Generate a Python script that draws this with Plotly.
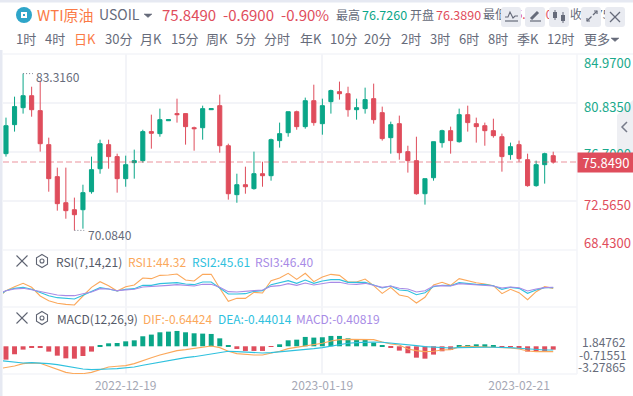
import plotly.graph_objects as go

W, H = 633, 396

dates = ["2022-11-28","2022-11-29","2022-11-30","2022-12-01","2022-12-02",
 "2022-12-05","2022-12-06","2022-12-07","2022-12-08","2022-12-09",
 "2022-12-12","2022-12-13","2022-12-14","2022-12-15","2022-12-16",
 "2022-12-19","2022-12-20","2022-12-21","2022-12-22","2022-12-23",
 "2022-12-26","2022-12-27","2022-12-28","2022-12-29","2022-12-30",
 "2023-01-02","2023-01-03","2023-01-04","2023-01-05","2023-01-06",
 "2023-01-09","2023-01-10","2023-01-11","2023-01-12","2023-01-13",
 "2023-01-16","2023-01-17","2023-01-18","2023-01-19","2023-01-20",
 "2023-01-23","2023-01-24","2023-01-25","2023-01-26","2023-01-27",
 "2023-01-30","2023-01-31","2023-02-01","2023-02-02","2023-02-03",
 "2023-02-06","2023-02-07","2023-02-08","2023-02-09","2023-02-10",
 "2023-02-13","2023-02-14","2023-02-15","2023-02-16","2023-02-17",
 "2023-02-20","2023-02-21","2023-02-22","2023-02-23","2023-02-24",
 "2023-02-27"]

opens = [76.56,79.01,80.44,81.45,80.19,77.32,74.62,72.42,71.83,71.83,
 73.35,75.29,77.32,76.31,74.45,75.80,75.97,78.42,78.25,79.34,
 79.94,79.94,78.75,78.75,80.27,80.61,77.23,73.10,73.94,73.61,
 74.87,74.70,77.66,78.33,80.10,78.84,81.03,79.09,80.95,81.79,
 81.62,80.27,80.36,81.20,80.02,77.91,79.09,76.73,75.97,73.18,
 74.53,77.49,78.50,77.57,79.85,79.09,78.92,78.50,77.99,76.48,
 77.32,76.05,73.86,75.63,76.389]
highs = [79.60,81.37,83.316,82.21,82.72,77.91,75.38,75.38,72.85,73.94,
 76.31,77.74,77.74,76.56,76.39,76.90,78.58,79.85,80.36,79.43,
 81.20,79.94,78.84,80.61,80.36,81.54,77.40,74.87,75.46,76.73,
 75.88,77.83,79.18,80.10,80.19,81.29,82.38,81.20,81.96,82.64,
 82.21,81.20,82.13,82.47,80.53,79.26,79.77,77.23,77.99,74.45,
 77.57,78.58,78.84,80.36,80.61,79.60,79.18,79.51,78.25,77.49,
 77.66,76.56,75.97,76.64,76.726]
lows = [76.31,78.42,79.94,79.68,76.73,73.35,71.75,71.07,70.084,70.23,
 73.18,74.87,75.29,73.27,73.77,74.45,75.80,76.98,77.99,79.34,
 79.18,77.32,76.81,77.74,80.27,76.64,72.68,72.42,73.18,73.52,
 73.77,74.28,77.07,77.99,78.58,78.67,78.92,78.16,79.94,81.12,
 79.68,79.43,79.94,79.09,77.66,76.56,76.05,74.96,73.10,72.26,
 74.28,77.07,76.56,77.49,78.42,77.49,77.23,77.91,75.04,76.05,
 75.88,73.77,73.77,74.03,75.72]
closes = [78.92,80.53,81.45,80.27,77.40,74.45,72.34,71.75,71.41,73.27,
 75.21,77.40,76.31,74.45,75.63,75.97,78.42,78.28,79.43,79.43,
 79.85,78.84,78.67,80.36,80.36,77.23,73.18,73.94,73.77,74.87,
 74.70,77.74,78.25,80.10,78.84,81.03,79.18,80.61,81.88,81.62,
 80.27,80.44,81.12,79.43,77.83,79.01,76.64,75.97,73.18,74.45,
 77.57,78.50,77.66,79.85,79.18,78.84,78.50,78.08,76.31,77.15,
 76.14,73.86,75.63,76.56,75.849]

rsi1 = [26.4,40.2,47.4,53.4,46.2,30.6,22.2,17.4,15.6,14.4,30.6,46.2,56.4,49.2,39.6,47.4,50.4,
 63.0,61.8,67.8,68.4,70.2,59.4,57.6,69.6,69.6,44.4,21.0,26.4,26.4,37.2,36.0,58.2,63.0,
 71.4,60.6,71.4,56.4,64.8,69.6,67.8,55.8,55.8,61.2,49.2,35.4,46.2,32.4,29.4,18.0,28.2,
 50.4,55.2,49.8,61.8,57.6,54.6,52.2,49.2,34.8,42.6,36.6,24.0,38.4,47.4,44.32]
rsi2 = [29.4,40.2,44.4,46.2,42.6,36.6,31.2,27.6,25.8,25.2,31.8,38.4,45.6,43.2,39.6,42.6,43.8,
 49.8,49.8,52.8,53.4,54.6,52.2,51.0,55.8,55.8,45.0,34.2,34.2,34.8,39.0,40.2,51.0,54.0,
 58.2,53.4,59.4,53.4,57.6,60.0,60.0,55.2,54.6,55.2,50.4,45.0,48.6,41.4,40.2,33.0,36.6,
 47.4,49.8,49.2,54.6,52.8,51.6,51.0,49.2,42.6,46.2,44.4,35.4,41.4,45.6,45.61]
rsi3 = [34.2,40.2,43.2,44.4,42.0,38.4,34.8,32.4,31.2,31.2,34.8,37.8,43.8,43.2,40.2,42.0,42.6,
 46.8,47.4,49.2,49.8,51.0,49.2,48.6,51.6,51.6,46.2,38.4,37.8,38.4,40.2,41.4,48.0,49.2,
 52.8,49.8,54.0,50.4,53.4,55.2,55.2,52.2,51.6,53.4,49.8,46.2,48.6,44.4,43.2,37.8,40.2,
 48.6,49.2,48.6,52.8,51.6,50.4,49.8,48.6,45.0,46.8,45.6,39.6,43.2,45.6,46.40]

macd_hist = [-1.61,-0.96,-0.40,-0.12,-0.16,-0.64,-1.13,-1.45,-1.49,-1.17,-0.64,0.12,0.36,0.40,0.60,0.72,
 1.21,1.41,1.69,1.77,1.85,1.69,1.57,1.53,1.49,0.96,0.12,-0.32,-0.56,-0.56,-0.56,-0.08,0.24,0.72,0.80,1.13,
 1.05,1.09,1.25,1.25,0.96,0.80,0.76,0.44,0.12,-0.12,-0.52,-0.84,-1.37,-1.49,-1.00,-0.60,-0.44,
 0.12,0.16,0.24,0.24,0.16,-0.08,-0.08,-0.16,-0.64,-0.64,-0.60,-0.40819]
dif = [-2.73,-2.57,-2.37,-2.09,-2.01,-2.05,-2.41,-2.85,-3.14,-3.30,-3.30,-3.14,-2.81,-2.49,-2.41,-2.33,-2.09,
 -1.69,-1.37,-1.05,-0.80,-0.52,-0.40,-0.28,-0.08,0.04,-0.16,-0.60,-0.88,-1.01,-1.05,-1.05,-0.84,-0.60,-0.28,-0.12,0.12,
 0.24,0.36,0.64,0.80,0.84,0.80,0.84,0.80,0.52,0.28,0.16,-0.32,-0.52,-0.64,-0.60,-0.44,-0.40,
 -0.08,0.0,-0.04,-0.04,-0.08,-0.12,-0.20,-0.32,-0.56,-0.64,-0.64,-0.64424]
dea = [-1.69,-1.81,-1.89,-2.01,-1.97,-2.01,-2.09,-2.21,-2.41,-2.57,-2.73,-2.81,-2.81,-2.73,-2.69,-2.61,-2.49,
 -2.29,-2.09,-1.89,-1.69,-1.53,-1.37,-1.25,-1.09,-0.88,-0.68,-0.60,-0.64,-0.72,-0.72,-0.80,-0.76,-0.68,-0.56,-0.48,-0.36,
 -0.28,-0.16,0.04,0.24,0.36,0.44,0.52,0.52,0.48,0.40,0.32,0.24,0.08,-0.04,-0.12,-0.16,-0.20,
 -0.16,-0.12,-0.12,-0.12,-0.12,-0.12,-0.16,-0.24,-0.32,-0.40,-0.44,-0.44014]

price_ticks = [84.97, 80.835, 76.7, 72.565, 68.43]
date_ticks = ["2022-12-19", "2023-01-19", "2023-02-21"]
last_price = 75.849

GREEN, RED = "#0aa688", "#df4d5c"
ORANGE, CYAN, PURPLE = "#fba85b", "#2fc1de", "#a88be6"
GRID = "#f3f4f8"
FONT = "Noto Sans CJK SC"
GRAY = "#666b7a"

def fx(x): return x / W
def fy(y): return 1 - y / H

def pane(top, bottom): return [fy(bottom), fy(top)]

fig = go.Figure()
candle_x = dates[1:]
fig.add_trace(go.Candlestick(x=candle_x, open=opens, high=highs, low=lows, close=closes,
    increasing=dict(line=dict(color=GREEN, width=1), fillcolor=GREEN),
    decreasing=dict(line=dict(color=RED, width=1), fillcolor=RED),
    whiskerwidth=0, xaxis="x", yaxis="y", showlegend=False, hoverinfo="skip"))
for vals, col in ((rsi1, ORANGE), (rsi2, CYAN), (rsi3, PURPLE)):
    fig.add_trace(go.Scatter(x=dates, y=vals, mode="lines", line=dict(color=col, width=1.1),
                             xaxis="x2", yaxis="y2", showlegend=False, hoverinfo="skip"))
fig.add_trace(go.Bar(x=candle_x, y=macd_hist, marker=dict(color=[GREEN if v > 0 else RED for v in macd_hist], line_width=0),
                     xaxis="x3", yaxis="y3", showlegend=False, hoverinfo="skip"))
for vals, col in ((dif, ORANGE), (dea, CYAN)):
    fig.add_trace(go.Scatter(x=dates, y=vals, mode="lines", line=dict(color=col, width=1.1),
                             xaxis="x3", yaxis="y3", showlegend=False, hoverinfo="skip"))

# header values partly hidden behind the toolbar buttons: drawn as trace text, under the shapes
fig.add_trace(go.Scatter(
    x=[483, 509, 570, 596], y=[15.5, 15.5, 15.5, 15.5], mode="text",
    text=["最低", "75.7000", "收盘", "75.8490"], textposition="middle right",
    textfont=dict(family=FONT, size=12, color=[GRAY, RED, GRAY, GRAY]),
    xaxis="x4", yaxis="y4", showlegend=False, hoverinfo="skip"))

xr = [0.65, 67.78]
xbase = dict(type="category", categoryorder="array", categoryarray=dates, range=xr,
             domain=[fx(3), fx(577)], tickmode="array", tickvals=date_ticks, ticktext=date_ticks,
             showgrid=True, gridcolor=GRID, gridwidth=1.5, zeroline=False, showline=False, ticks="",
             showticklabels=False, rangeslider=dict(visible=False), fixedrange=True)
ybase = dict(side="right", showticklabels=False, zeroline=False, ticks="", fixedrange=True, showline=False)

shapes = []
def line(x0, y0, x1, y1, color=GRAY, width=1.2, dash=None, layer="above"):
    shapes.append(dict(type="line", xref="paper", yref="paper", x0=fx(x0), y0=fy(y0), x1=fx(x1), y1=fy(y1),
                       line=dict(color=color, width=width, dash=dash), layer=layer))
def rect(x0, y0, x1, y1, fill, layer="above"):
    shapes.append(dict(type="rect", xref="paper", yref="paper", x0=fx(x0), y0=fy(y0), x1=fx(x1), y1=fy(y1),
                       fillcolor=fill, line_width=0, layer=layer))
def poly(points, fill=None, color=GRAY, width=1.2, closed=False, layer="above"):
    d = "M" + " L".join(f"{fx(a):.5f},{fy(b):.5f}" for a, b in points) + (" Z" if closed else "")
    shapes.append(dict(type="path", xref="paper", yref="paper", path=d, fillcolor=fill,
                       line=dict(color=color, width=width), layer=layer))
def button(x0, x1, y0=7, y1=27, r=3, fill="#e9ebf1"):
    d = (f"M{fx(x0+r):.5f},{fy(y0):.5f} L{fx(x1-r):.5f},{fy(y0):.5f} Q{fx(x1):.5f},{fy(y0):.5f} {fx(x1):.5f},{fy(y0+r):.5f} "
         f"L{fx(x1):.5f},{fy(y1-r):.5f} Q{fx(x1):.5f},{fy(y1):.5f} {fx(x1-r):.5f},{fy(y1):.5f} "
         f"L{fx(x0+r):.5f},{fy(y1):.5f} Q{fx(x0):.5f},{fy(y1):.5f} {fx(x0):.5f},{fy(y1-r):.5f} "
         f"L{fx(x0):.5f},{fy(y0+r):.5f} Q{fx(x0):.5f},{fy(y0):.5f} {fx(x0+r):.5f},{fy(y0):.5f} Z")
    shapes.append(dict(type="path", xref="paper", yref="paper", path=d, fillcolor=fill, line_width=0, layer="above"))

# page frame and separators
rect(0, 0, 633, 2.5, "#e6e9f2")
rect(0, 50, 2.5, 396, "#e6e9f2")
rect(3, 53, 633, 55, "#f6f7fa", layer="below")
line(3, 250, 577, 250, GRID, 1.5, layer="below")
line(3, 307, 577, 307, GRID, 1.5, layer="below")
line(3, 374, 577, 374, GRID, 1.5, layer="below")
line(577, 54, 577, 374, GRID, 1.5, layer="below")

# logo
shapes.append(dict(type="circle", xref="paper", yref="paper", x0=fx(16), y0=fy(7), x1=fx(32), y1=fy(23),
                   fillcolor="#2ea5c9", line_width=0, layer="above"))
rect(21, 12, 27, 18, "#ffffff")
rect(23, 14, 25, 16, "#2ea5c9")

# caret markers
poly([(144, 14), (152, 14), (148, 17.5)], fill=GRAY, color=GRAY, width=0.5, closed=True)
poly([(611, 38), (619, 38), (615, 41.5)], fill=GRAY, color=GRAY, width=0.5, closed=True)

# the clipped header text stops at the last button
rect(625, 3, 633, 30, "#ffffff")

# toolbar buttons
for a, b in ((501, 521), (525, 545), (549, 569), (581, 601), (605, 625)):
    button(a, b)
poly([(505, 17), (508, 17), (510, 12), (513, 18), (515, 16), (518, 16)], width=1.1)
line(505, 21, 518, 21, GRAY, 1.2)
line(531, 19, 538, 12, GRAY, 3.0)
line(530, 21, 541, 21, GRAY, 1.2)
line(555, 10, 555, 20, GRAY, 1); line(563, 12, 563, 23, GRAY, 1)
rect(553, 12, 557, 18, GRAY); rect(561, 15, 565, 21, GRAY)
line(587, 21, 591.5, 16.5, GRAY, 1.2)
line(593, 15, 597, 11, GRAY, 1.2)
poly([(587, 18), (587, 21), (590, 21)], width=1.2); poly([(594, 11), (597, 11), (597, 14)], width=1.2)
line(610, 12, 620, 22, GRAY, 1.2); line(620, 12, 610, 22, GRAY, 1.2)

# collapse tab
poly([(633, 100), (617, 115), (617, 153), (633, 153)], fill="#eeeff3", color="#eeeff3", width=0, closed=True)
poly([(627, 122), (622, 127), (627, 132)], color="#777b8a", width=1.5)

# current price line
shapes.append(dict(type="line", xref="paper", yref="y", x0=fx(3), x1=fx(577), y0=last_price, y1=last_price,
                   line=dict(color="rgba(223,77,92,0.3)", width=2, dash="6px,3px"), layer="above"))

# high / low leaders
shapes.append(dict(type="line", xref="x", yref="y", x0=3, x1=4.15, y0=83.316, y1=83.316,
                   line=dict(color="#777b8a", width=1, dash="1px,2px"), layer="above"))
shapes.append(dict(type="line", xref="x", yref="y", x0=9, x1=10.15, y0=70.084, y1=70.084,
                   line=dict(color="#777b8a", width=1, dash="1px,2px"), layer="above"))

# indicator pane icons
for cy in (261, 318):
    line(16.5, cy - 5.5, 27.5, cy + 5.5, "#5f6472", 1.1)
    line(27.5, cy - 5.5, 16.5, cy + 5.5, "#5f6472", 1.1)
    poly([(42, cy - 6.5), (47.5, cy - 3.2), (47.5, cy + 3.2), (42, cy + 6.5), (36.5, cy + 3.2), (36.5, cy - 3.2)],
         color="#5f6472", width=1.1, closed=True)
    shapes.append(dict(type="circle", xref="paper", yref="paper", x0=fx(40), y0=fy(cy - 2), x1=fx(44), y1=fy(cy + 2),
                       line=dict(color="#5f6472", width=1.1), layer="above"))

ann = []
def T(text, x, y, size=12, color=GRAY, anchor="left", **kw):
    ann.append(dict(text=text, xref="paper", yref="paper", x=fx(x), y=fy(y), xanchor=anchor, yanchor="middle",
                    showarrow=False, font=dict(family=FONT, size=size, color=color), borderpad=0, **kw))

T("WTI原油", 36, 14, 15, "#fb7a46")
T("USOIL", 98, 14, 14, GRAY)
T("75.8490", 161, 14, 15, RED)
T("-0.6900", 222, 14, 15, RED)
T("-0.90%", 280, 14, 15, RED)
T("最高", 335, 14, 12, GRAY)
T("76.7260", 361, 14, 12.5, GREEN)
T("开盘", 409, 14, 12, GRAY)
T("76.3890", 435, 14, 12.5, RED)

periods = [("1时",26),("4时",55),("日K",85),("30分",118),("月K",151),("15分",184),("周K",217),("5分",246),
           ("分时",277),("年K",311),("10分",343),("20分",378),("2时",411),("3时",440),("6时",469),("8时",498),
           ("季K",528),("12时",560),("更多",597)]
for lab, cx in periods:
    T(lab, cx, 38.5, 13, "#fb7a46" if lab == "日K" else GRAY, anchor="center")

T("83.3160", 35, 77, 12, GRAY)
T("70.0840", 87, 234, 12, GRAY)

T(f"{price_ticks[0]:.4f}", 583, 63, 13, "#1aa98c")
T(f"{price_ticks[1]:.4f}", 583, 106, 13, "#1aa98c")
T(f"{price_ticks[2]:.4f}", 583, 154, 13, "#1aa98c")
T(f"{price_ticks[3]:.4f}", 583, 204, 13, RED)
T(f"{price_ticks[4]:.4f}", 583, 242, 13, RED)
ann.append(dict(text=f"{last_price:.4f}", xref="paper", yref="paper", x=fx(577), y=fy(162.5), xanchor="left", yanchor="middle",
                showarrow=False, bgcolor=RED, width=56, height=19, align="center", borderpad=0,
                font=dict(family=FONT, size=13, color="#ffffff")))

T("RSI(7,14,21)", 55, 261, 12, "#555a68")
T(f"RSI1:{rsi1[-1]:.2f}", 127, 261, 12, ORANGE)
T(f"RSI2:{rsi2[-1]:.2f}", 191, 261, 12, CYAN)
T(f"RSI3:{rsi3[-1]:.2f}", 254, 261, 12, PURPLE)
T("MACD(12,26,9)", 56, 318, 12, "#555a68")
T(f"DIF:{dif[-1]:.5f}", 142, 318, 12, ORANGE)
T(f"DEA:{dea[-1]:.5f}", 217, 318, 12, CYAN)
T(f"MACD:{macd_hist[-1]:.5f}", 295, 318, 12, PURPLE)
T("1.84762", 627, 341, 12, GRAY, anchor="right")
T("-0.71551", 627, 354, 12, GRAY, anchor="right")
T("-3.27865", 627, 366, 12, GRAY, anchor="right")

fig.update_layout(
    width=W, height=H, autosize=False, margin=dict(l=0, r=0, t=0, b=0),
    paper_bgcolor="#ffffff", plot_bgcolor="rgba(0,0,0,0)", boxgap=0.52, boxgroupgap=0, bargap=0.42,
    hovermode=False, dragmode=False, shapes=shapes, annotations=ann,
    xaxis=dict(xbase, anchor="y"),
    xaxis2=dict(xbase, anchor="y2"),
    xaxis3=dict(xbase, anchor="y3", showticklabels=True, ticklabelposition="outside", ticklabelstandoff=3,
                tickfont=dict(family=FONT, size=12, color="#a5a8b5")),
    xaxis4=dict(range=[0, W], domain=[0, 1], visible=False, anchor="y4", fixedrange=True),
    yaxis=dict(ybase, domain=pane(54, 250), range=[68.43, 84.97], anchor="x", tickmode="array",
               tickvals=price_ticks, showgrid=True, gridcolor=GRID, gridwidth=1.5),
    yaxis2=dict(ybase, domain=pane(250, 307), range=[10.8, 113.4], anchor="x2", showgrid=False),
    yaxis3=dict(ybase, domain=pane(307, 374), range=[-3.34, 4.74], anchor="x3", showgrid=False),
    yaxis4=dict(range=[H, 0], domain=[0, 1], visible=False, anchor="x4", fixedrange=True),
)

fig.write_html("out.html", config={"displayModeBar": False},
               post_script="document.body.style.margin='0';document.body.style.overflow='hidden';")
